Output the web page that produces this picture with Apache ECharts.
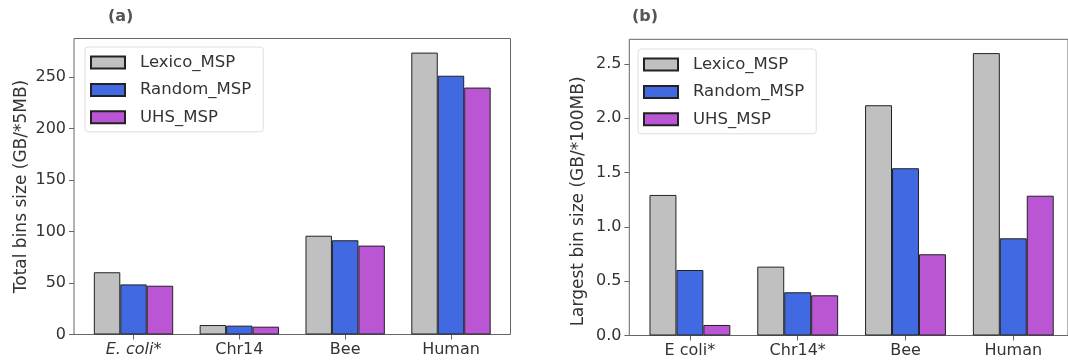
<!DOCTYPE html>
<html>
<head>
<meta charset="utf-8">
<script src="https://cdn.jsdelivr.net/npm/echarts@6/dist/echarts.min.js"></script>
<style>
html,body{margin:0;padding:0;background:#fff;}
#chart{width:1068px;height:364px;}
</style>
</head>
<body>
<div id="chart"></div>
<script>
// ---- data ----
var seriesNames = ['Lexico_MSP', 'Random_MSP', 'UHS_MSP'];
var seriesColors = ['#c0c0c0', '#4169e1', '#ba55d3'];

var catsA = ['E. coli*', 'Chr14', 'Bee', 'Human'];
var lexicoA = [60.5, 9.2, 96, 274];
var randomA = [48.7, 8.6, 91.6, 251.5];
var uhsA = [47.4, 7.6, 86.4, 240];
var yTitleA = 'Total bins size (GB/*5MB)';
var yMaxA = 287.7;

var catsB = ['E coli*', 'Chr14*', 'Bee', 'Human'];
var lexicoB = [1.294, 0.634, 2.12, 2.60];
var randomB = [0.603, 0.398, 1.54, 0.895];
var uhsB = [0.097, 0.370, 0.748, 1.287];
var yTitleB = 'Largest bin size (GB/*100MB)';
var yMaxB = 2.727;

var FONT = 'DejaVu Sans';
var TXT = '#333';
var FRAME = '#666';

var chart = echarts.init(document.getElementById('chart'), null, {renderer: 'canvas'});

function frameGrid(left, top, width, height) {
  return {left: left, top: top, width: width, height: height, show: true,
          borderColor: FRAME, borderWidth: 1, backgroundColor: 'transparent', containLabel: false};
}

var grids = [
  frameGrid(74, 38.5, 436.5, 296),
  {left: 80.6, top: 38.5, width: 423.3, height: 296, show: false},
  frameGrid(629.3, 39.3, 444.7, 296.2),
  {left: 636, top: 39.3, width: 431.2, height: 296.2, show: false}
];

function hiddenX(gi) { return {type: 'value', gridIndex: gi, show: false, min: 0, max: 1}; }
function hiddenY(gi) { return {type: 'value', gridIndex: gi, show: false, min: 0, max: 1}; }

function catAxis(gi, cats, rich) {
  return {
    type: 'category', gridIndex: gi, data: cats,
    axisLine: {show: false},
    axisTick: {show: true, alignWithLabel: true, length: 5, lineStyle: {color: FRAME}},
    axisLabel: {color: TXT, fontFamily: FONT, fontSize: 16, margin: 7, interval: 0, hideOverlap: false,
                formatter: rich ? function (v) {
                  if (v.indexOf('E. coli') === 0) return '{i|E. coli}*';
                  return v;
                } : null,
                rich: rich ? {i: {fontStyle: 'italic', fontFamily: FONT, fontSize: 16, color: TXT}} : undefined},
    splitLine: {show: false}
  };
}

function valAxis(gi, max, interval, name, nameGap, namePad, fmt) {
  return {
    type: 'value', gridIndex: gi, min: 0, max: max, interval: interval, offset: 6.6,
    name: name, nameLocation: 'middle', nameGap: nameGap,
    nameTextStyle: {color: TXT, fontFamily: FONT, fontSize: 17, padding: namePad},
    axisLine: {show: false},
    axisTick: {show: true, length: 5, lineStyle: {color: FRAME}},
    axisLabel: {color: TXT, fontFamily: FONT, fontSize: 16, margin: 8,
                formatter: fmt, showMaxLabel: false},
    splitLine: {show: false}
  };
}

var xAxes = [
  hiddenX(0),
  catAxis(1, catsA, true),
  hiddenX(2),
  catAxis(3, catsB, false)
];
var yAxes = [
  hiddenY(0),
  valAxis(1, yMaxA, 50, yTitleA, 44, [0, 0, 0, 0], function (v) { return String(v); }),
  hiddenY(2),
  valAxis(3, yMaxB, 0.5, yTitleB, 42, [0, 28, 0, 0], function (v) { return v.toFixed(1); })
];

function barSeries(name, data, gi, idx) {
  return {
    type: 'bar', name: name, data: data, xAxisIndex: gi, yAxisIndex: gi,
    barWidth: '25%', barGap: '0%',
    itemStyle: {color: seriesColors[idx], borderColor: '#222', borderWidth: 1},
    emphasis: {disabled: true},
    animation: false
  };
}

var series = [
  barSeries(seriesNames[0], lexicoA, 1, 0),
  barSeries(seriesNames[1], randomA, 1, 1),
  barSeries(seriesNames[2], uhsA, 1, 2),
  barSeries(seriesNames[0], lexicoB, 3, 0),
  barSeries(seriesNames[1], randomB, 3, 1),
  barSeries(seriesNames[2], uhsB, 3, 2)
];

function legend(left, top) {
  return {
    left: left, top: top, orient: 'vertical', icon: 'rect',
    itemWidth: 34, itemHeight: 12, itemGap: 10.4,
    padding: [7, 12, 6, 5],
    backgroundColor: '#fff', borderColor: '#ddd', borderWidth: 1, borderRadius: 3,
    selectedMode: false,
    data: seriesNames,
    textStyle: {color: TXT, fontFamily: FONT, fontSize: 16.5, lineHeight: 16, padding: [0, 0, 0, 10]}
  };
}

chart.setOption({
  animation: false,
  title: [
    {text: '(a)', left: 108, top: 9, padding: 0, textStyle: {color: '#555', fontFamily: FONT, fontSize: 16, fontWeight: 'bold'}},
    {text: '(b)', left: 632, top: 9, padding: 0, textStyle: {color: '#555', fontFamily: FONT, fontSize: 16, fontWeight: 'bold'}}
  ],
  legend: [legend(85, 47), legend(638, 49)],
  grid: grids,
  xAxis: xAxes,
  yAxis: yAxes,
  series: series
});
</script>
</body>
</html>
